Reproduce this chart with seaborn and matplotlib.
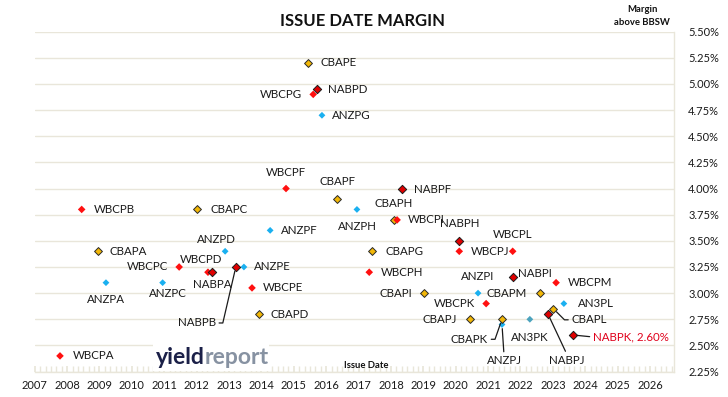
import matplotlib
matplotlib.use("Agg")
import matplotlib.pyplot as plt
import seaborn as sns
import pandas as pd
from matplotlib.ticker import MultipleLocator, FuncFormatter

# ---------------- data ----------------
names = ["WBCPA", "WBCPB", "CBAPA", "ANZPA", "ANZPC", "WBCPC", "CBAPC", "WBCPD",
         "NABPA", "ANZPD", "NABPB", "ANZPE", "WBCPE", "CBAPD", "ANZPF", "WBCPF",
         "CBAPE", "WBCPG", "NABPD", "ANZPG", "CBAPF", "ANZPH", "WBCPH", "CBAPG",
         "CBAPH", "WBCPI", "NABPF", "CBAPI", "NABPH", "WBCPJ", "CBAPJ", "ANZPI",
         "WBCPK", "CBAPK", "ANZPJ", "WBCPL", "NABPI", "AN3PK", "CBAPM", "NABPJ",
         "CBAPL", "WBCPM", "AN3PL", "NABPK"]
groups = ["WBC", "WBC", "CBA", "ANZ", "ANZ", "WBC", "CBA", "WBC",
          "NAB", "ANZ", "NAB", "ANZ", "WBC", "CBA", "ANZ", "WBC",
          "CBA", "WBC", "NAB", "ANZ", "CBA", "ANZ", "WBC", "CBA",
          "CBA", "WBC", "NAB", "CBA", "NAB", "WBC", "CBA", "ANZ",
          "WBC", "CBA", "ANZ", "WBC", "NAB", "AN3K", "CBA", "NAB",
          "CBA", "WBC", "ANZ", "NAB"]
issue_date = [2007.78, 2008.45, 2008.96, 2009.20, 2010.95, 2011.46, 2012.02, 2012.35,
              2012.48, 2012.88, 2013.21, 2013.46, 2013.71, 2013.92, 2014.27, 2014.76,
              2015.44, 2015.60, 2015.71, 2015.87, 2016.35, 2016.95, 2017.33, 2017.41,
              2018.09, 2018.19, 2018.35, 2019.03, 2020.11, 2020.11, 2020.45, 2020.69,
              2020.94, 2021.43, 2021.43, 2021.76, 2021.78, 2022.29, 2022.61, 2022.85,
              2023.02, 2023.10, 2023.34, 2023.62]
margin = [2.40, 3.80, 3.40, 3.10, 3.10, 3.25, 3.80, 3.20,
          3.20, 3.40, 3.25, 3.25, 3.05, 2.80, 3.60, 4.00,
          5.20, 4.90, 4.95, 4.70, 3.90, 3.80, 3.20, 3.40,
          3.70, 3.70, 4.00, 3.00, 3.50, 3.40, 2.75, 3.00,
          2.90, 2.75, 2.70, 3.40, 3.15, 2.75, 3.00, 2.80,
          2.85, 3.10, 2.90, 2.60]
year_ticks = list(range(2007, 2027))
margin_ticks = [2.25 + 0.25 * i for i in range(14)]
highlight = "NABPK"

df = pd.DataFrame({"name": names, "group": groups, "date": issue_date, "margin": margin})

# ---------------- styling ----------------
sns.set_theme(style="white")
plt.rcParams["font.family"] = ["Lato", "DejaVu Sans"]

GRID = "#E9E6DA"
TXT = "#1A1A1A"
style = {
    "ANZ": dict(color="#1AB0F0", edge="none", s=12, lw=0),
    "AN3K": dict(color="#4BA3BE", edge="none", s=12, lw=0),
    "CBA": dict(color="#F2B707", edge="#2A2A2A", s=16, lw=0.7),
    "WBC": dict(color="#FF1010", edge="none", s=15, lw=0),
    "NAB": dict(color="#E00000", edge="#1A1A1A", s=18, lw=0.7),
}

fig = plt.figure(figsize=(7.28, 3.97), dpi=100)
ax = fig.add_axes([0.0477, 0.064, 0.8785, 0.8564])

for g in ["ANZ", "AN3K", "CBA", "WBC", "NAB"]:
    st = style[g]
    sns.scatterplot(data=df[df["group"] == g], x="date", y="margin", ax=ax,
                    marker="D", s=st["s"], color=st["color"],
                    edgecolor=st["edge"], linewidth=st["lw"], zorder=3, legend=False)

ax.set_xlim(2007, 2026.75)
ax.set_ylim(2.25, 5.5)
ax.set_xticks(year_ticks)
ax.xaxis.set_minor_locator(MultipleLocator(1 / 6))
ax.set_yticks(margin_ticks)
ax.yaxis.tick_right()
ax.yaxis.set_major_formatter(FuncFormatter(lambda v, p: f"{v:.2f}%"))
ax.tick_params(axis="x", which="both", direction="in", length=4, color=GRID,
               labelsize=8, labelcolor=TXT, pad=6, bottom=True)
ax.tick_params(axis="y", length=0, labelsize=8, labelcolor=TXT, pad=10, right=True)
ax.set_xlabel("")
ax.set_ylabel("")
ax.grid(axis="y", color=GRID, lw=1)
ax.grid(axis="x", visible=False)
for sp in ["left", "top"]:
    ax.spines[sp].set_visible(False)
for sp in ["bottom", "right"]:
    ax.spines[sp].set_color(GRID)
    ax.spines[sp].set_linewidth(1)

# ---------------- point labels (layout offsets in pixels) ----------------
# name: (dx, dy_down, ha, leader connection or None)
lay = {
    "WBCPA": (13, 0, "left", None), "WBCPB": (12, 0, "left", None),
    "CBAPA": (11, 0, "left", None), "ANZPA": (0, 17, "center", None),
    "ANZPC": (5, 11, "center", None), "WBCPC": (-11, 0, "right", None),
    "CBAPC": (13, 0, "left", None), "WBCPD": (-7, -13, "center", None),
    "NABPA": (0, 12, "center", None), "ANZPD": (-9, -12, "center", None),
    "NABPB": (-20, 56, "right", "arc,angleA=0,armA=7,angleB=0,armB=0,rad=0"),
    "ANZPE": (10, 0, "left", None), "WBCPE": (11, 0, "left", None),
    "CBAPD": (12, 0, "left", None), "ANZPF": (11, 0, "left", None),
    "WBCPF": (0, -16, "center", None), "CBAPE": (12, 0, "left", None),
    "WBCPG": (-11, 0, "right", None), "NABPD": (11, 0, "left", None),
    "ANZPG": (10, 0, "left", None), "CBAPF": (0, -17, "center", None),
    "ANZPH": (0, 17, "center", None), "WBCPH": (12, 0, "left", None),
    "CBAPG": (14, 0, "left", None), "CBAPH": (0, -16, "center", None),
    "WBCPI": (11, 0, "left", None), "NABPF": (12, 1, "left", None),
    "CBAPI": (-12, 0, "right", None), "NABPH": (0, -17, "center", None),
    "WBCPJ": (12, 0, "left", None), "CBAPJ": (-13, 0, "right", None),
    "ANZPI": (0, -17, "center", None), "WBCPK": (-11, 0, "right", None),
    "CBAPK": (-14, 20, "right", "arc,angleA=0,armA=7,angleB=0,armB=0,rad=0"),
    "ANZPJ": (2, 36, "center", "arc3,rad=0"),
    "WBCPL": (0, -17, "center", None), "NABPI": (5, -4, "left", None),
    "AN3PK": (0, 18, "center", None), "CBAPM": (-13, 0, "right", None),
    "NABPJ": (19, 46, "center", "arc3,rad=0"),
    "CBAPL": (18, 11, "left", "arc,angleA=180,armA=7,angleB=0,armB=0,rad=0"),
    "WBCPM": (12, 0, "left", None), "AN3PL": (14, 0, "left", None),
    "NABPK": (20, 2, "left", "arc3,rad=0"),
}

for _, r in df.iterrows():
    dx, dy, ha, conn = lay[r["name"]]
    txt = r["name"]
    col = TXT
    if r["name"] == highlight:
        txt = f"{r['name']}, {r['margin']:.2f}%"
        col = "#E0001B"
    kw = {}
    if conn is not None:
        if ha == "center":
            rel = (0.5, 1.0)
        elif ha == "right":
            rel = (1.0, 0.5)
        else:
            rel = (0.0, 0.5)
        kw["arrowprops"] = dict(arrowstyle="-", color="#1A1A1A", lw=0.9,
                                connectionstyle=conn, shrinkA=0, shrinkB=3,
                                relpos=rel)
    ax.annotate(txt, xy=(r["date"], r["margin"]), xytext=(dx, -dy),
                textcoords="offset pixels", ha=ha, va="center",
                fontsize=8.3, color=col, zorder=4, **kw)

# ---------------- titles / logo ----------------
fig.text(363 / 728, 1 - 21 / 397, "ISSUE DATE MARGIN", ha="center", va="center",
         fontsize=12, fontweight="bold", color="#111111")
fig.text(642 / 728, 1 - 16 / 397, "Margin\nabove BBSW", ha="center", va="center",
         fontsize=6.8, fontweight="bold", color="#111111", linespacing=1.45)
fig.text(366 / 728, 1 - 366 / 397, "Issue Date", ha="center", va="center",
         fontsize=6.8, fontweight="bold", color="#111111")
fig.patches.append(plt.Rectangle((153 / 728, 1 - 371 / 397), 116 / 728, 27 / 397,
                                 transform=fig.transFigure, facecolor="white",
                                 edgecolor="none", zorder=5))
fig.text(205 / 728, 1 - 357 / 397, "yield", ha="right", va="center", zorder=6,
         fontsize=16.5, fontweight="bold", color="#1B2048")
fig.text(205 / 728, 1 - 357 / 397, "report", ha="left", va="center", zorder=6,
         fontsize=16.5, fontweight="bold", color="#8792A2")

fig.savefig("out.png", dpi=100)
